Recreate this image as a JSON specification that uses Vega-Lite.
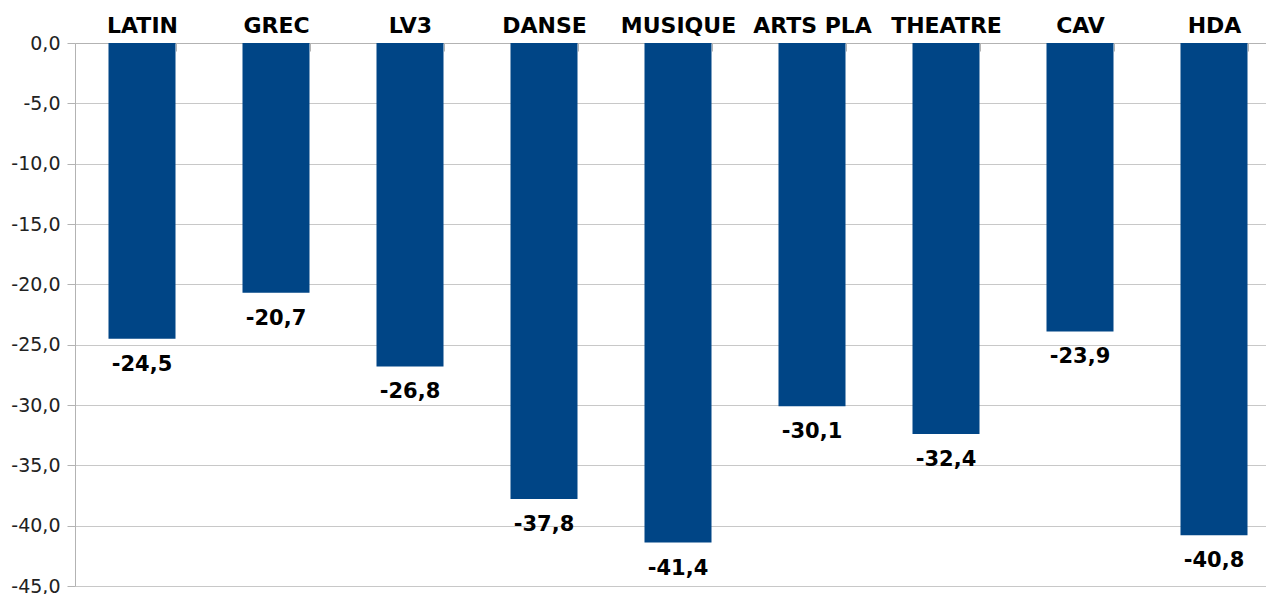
{
  "$schema": "https://vega.github.io/schema/vega-lite/v6.json",
  "width": 1191,
  "height": 543,
  "autosize": {"type": "none"},
  "padding": {"left": 75, "top": 43, "right": 0, "bottom": 8},
  "background": "white",
  "config": {
    "view": {"stroke": null},
    "locale": {"number": {"decimal": ",", "thousands": " ", "grouping": [3], "currency": ["", " €"], "minus": "-"}},
    "font": "DejaVu Sans"
  },
  "data": {
    "values": [
      {"cat": "LATIN", "value": -24.5},
      {"cat": "GREC", "value": -20.7},
      {"cat": "LV3", "value": -26.8},
      {"cat": "DANSE", "value": -37.8},
      {"cat": "MUSIQUE", "value": -41.4},
      {"cat": "ARTS PLA", "value": -30.1},
      {"cat": "THEATRE", "value": -32.4},
      {"cat": "CAV", "value": -23.9},
      {"cat": "HDA", "value": -40.8}
    ]
  },
  "encoding": {
    "x": {
      "field": "cat", "type": "nominal", "sort": null,
      "scale": {"range": [0, 1206], "paddingInner": 0.5, "paddingOuter": 0.25},
      "axis": {
        "orient": "top", "title": null, "labelAngle": 0,
        "labelFont": "DejaVu Sans", "labelFontWeight": "bold", "labelFontSize": 22, "labelColor": "black",
        "labelBaseline": "alphabetic", "labelPadding": 19,
        "tickSize": -8, "tickColor": "#b3b3b3", "tickBand": "extent",
        "domainColor": "#b3b3b3", "grid": false
      }
    },
    "y": {
      "field": "value", "type": "quantitative",
      "scale": {"domain": [-45, 0], "nice": false, "zero": true},
      "axis": {
        "title": null, "values": [0, -5, -10, -15, -20, -25, -30, -35, -40, -45],
        "format": ".1f", "labelFont": "DejaVu Sans", "labelFontSize": 19, "labelColor": "#222222",
        "labelPadding": 7, "tickSize": 8, "tickColor": "#b3b3b3",
        "domainColor": "#b3b3b3", "gridColor": "#c8c8c8", "grid": true
      }
    }
  },
  "layer": [
    {"mark": {"type": "bar", "color": "#004586"}},
    {
      "mark": {"type": "text", "baseline": "alphabetic", "dy": 32, "fontWeight": "bold", "fontSize": 21, "color": "black", "font": "DejaVu Sans"},
      "encoding": {"text": {"field": "value", "type": "quantitative", "format": ".1f"}}
    }
  ]
}
